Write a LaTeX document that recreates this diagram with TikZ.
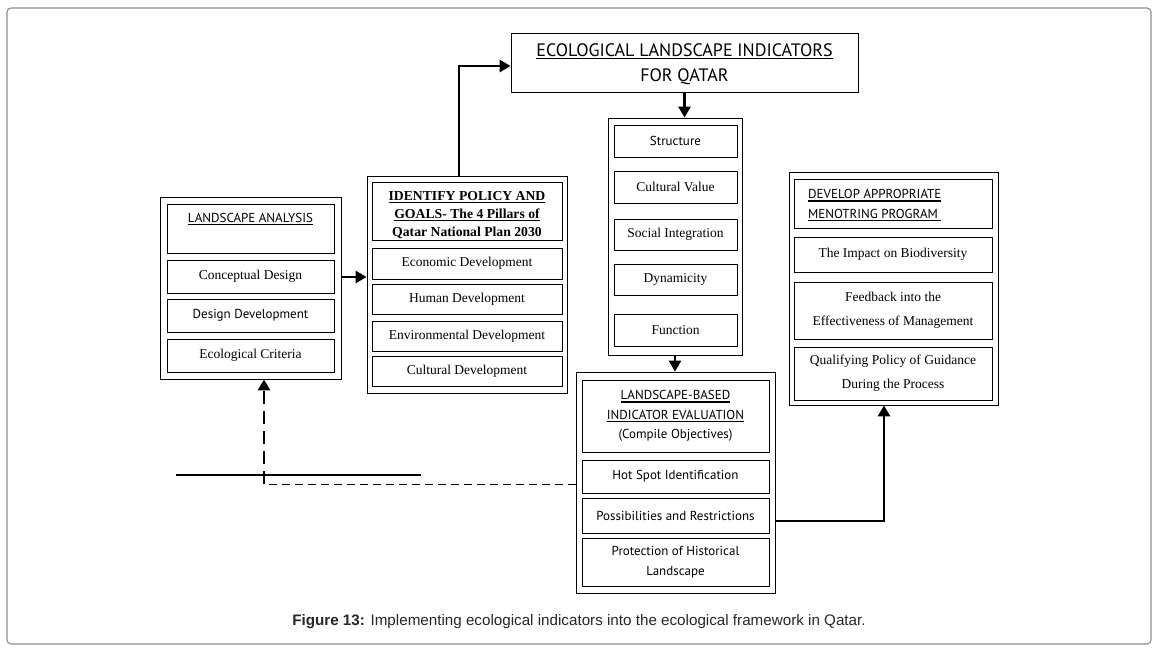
\documentclass[tikz,border=0pt]{standalone}
\usepackage{fontspec}
\usetikzlibrary{arrows.meta,calc}
\setmainfont{Liberation Serif}
\newfontfamily\sansf{PT Sans}
\newfontfamily\capf{Liberation Sans}
\newcommand\uln[1]{\setbox0\hbox{#1}\rlap{\rule[-3pt]{\wd0}{1.6pt}}\box0}
\newcommand\serbody{\rmfamily\fontsize{13.5}{24}\selectfont}
\newcommand\sanbody{\sansf\fontsize{13}{19.5}\selectfont}
\newcommand\polhead{\rmfamily\bfseries\fontsize{13.7}{18}\selectfont}
\newcommand\titlef{\sansf\fontsize{18}{25}\selectfont}
\tikzset{
  outerbox/.style={draw, line width=0.8pt, inner sep=0pt},
  innerbox/.style={draw, line width=0.8pt, inner sep=0pt, align=center},
  sertext/.style={font=\serbody},
  santext/.style={font=\sanbody},
  thickarrow/.style={line width=2.6pt, -{Triangle[length=11pt,width=12pt]}},
  dashthick/.style={line width=2.6pt, dash pattern=on 13pt off 7pt, -{Triangle[length=11pt,width=12pt]}},
  dashthin/.style={line width=0.9pt, dash pattern=on 8pt off 5pt},
  solidline/.style={line width=1.8pt},
  frame/.style={draw=black!45, line width=1.1pt, rounded corners=4pt}
}
\begin{document}
\begin{tikzpicture}[x=1pt,y=-1pt]
\useasboundingbox (0,0) rectangle (1157,650);
\draw[frame] (7,8) rectangle (1151,644);

% Title box
\node[outerbox, minimum width=347pt, minimum height=59pt] (top) at (684.5,62.5) {};
\node[font=\titlef, align=center, inner sep=0pt] (toptext) at (684.5,64) {\uln{ECOLOGICAL LANDSCAPE INDICATORS}\\FOR QATAR};

% Indicators column
\node[outerbox, minimum width=134pt, minimum height=237pt] (ind) at (675,236.5) {};
\node[innerbox, santext, minimum width=123pt, minimum height=32pt] (s1) at (675.5,141) {Structure};
\node[innerbox, sertext, minimum width=123pt, minimum height=32pt] (s2) at (675.5,187) {Cultural Value};
\node[innerbox, sertext, minimum width=123pt, minimum height=31pt] (s3) at (675.5,234.5) {Social Integration};
\node[innerbox, sertext, minimum width=123pt, minimum height=31pt] (s4) at (675.5,279.5) {Dynamicity};
\node[innerbox, sertext, minimum width=123pt, minimum height=32pt] (s5) at (675.5,330) {Function};

% Landscape analysis
\node[outerbox, minimum width=181pt, minimum height=182pt] (la) at (250.5,288) {};
\node[innerbox, minimum width=167pt, minimum height=49pt] (la1) at (250.5,228.5) {};
\node[santext, inner sep=0pt] (la1t) at (250.5,219) {\uln{LANDSCAPE ANALYSIS}};
\node[innerbox, sertext, minimum width=167pt, minimum height=33pt] (la2) at (250.5,276.5) {Conceptual Design};
\node[innerbox, santext, minimum width=167pt, minimum height=33pt] (la3) at (250.5,315.5) {Design Development};
\node[innerbox, sertext, minimum width=167pt, minimum height=33pt] (la4) at (250.5,355.5) {Ecological Criteria};

% Policy
\node[outerbox, minimum width=200pt, minimum height=217pt] (pol) at (467,284.5) {};
\node[innerbox, minimum width=190pt, minimum height=58pt] (p0) at (467,211) {};
\node[font=\polhead, align=center, inner sep=0pt] (p0t) at (467,215) {\uln{IDENTIFY POLICY AND}\\\uln{GOALS- The 4 Pillars of}\\Qatar National Plan 2030};
\node[innerbox, sertext, minimum width=190pt, minimum height=31pt] (p1) at (467,263.5) {Economic Development};
\node[innerbox, sertext, minimum width=190pt, minimum height=30pt] (p2) at (467,299) {Human Development};
\node[innerbox, sertext, minimum width=190pt, minimum height=30pt] (p3) at (467,336) {Environmental Development};
\node[innerbox, sertext, minimum width=190pt, minimum height=30pt] (p4) at (467,371) {Cultural Development};

% Landscape-based evaluation
\node[outerbox, minimum width=199pt, minimum height=221pt] (lb) at (675.5,482.5) {};
\node[innerbox, santext, minimum width=187pt, minimum height=72pt] (l0) at (675.5,416) {\uln{LANDSCAPE-BASED}\\\uln{INDICATOR EVALUATION}\\(Compile Objectives)};
\node[innerbox, santext, minimum width=187pt, minimum height=33pt] (l1) at (675.5,476.5) {Hot Spot Identification};
\node[innerbox, santext, minimum width=187pt, minimum height=35pt] (l2) at (675.5,515.5) {Possibilities and Restrictions};
\node[innerbox, santext, minimum width=187pt, minimum height=48pt] (l3) at (675.5,562) {Protection of Historical\\Landscape};

% Monitoring
\node[outerbox, minimum width=209pt, minimum height=233pt] (mon) at (893.5,288.5) {};
\node[innerbox, minimum width=198pt, minimum height=49pt] (m0) at (893,203.5) {};
\node[santext, align=left, anchor=west, inner sep=0pt] (m0t) at (808,205.5) {\uln{DEVELOP APPROPRIATE}\\\uln{MENOTRING PROGRAM\ }};
\node[innerbox, sertext, minimum width=198pt, minimum height=35pt] (m1) at (893,254.5) {The Impact on Biodiversity};
\node[innerbox, sertext, minimum width=198pt, minimum height=57pt] (m2) at (893,310.5) {Feedback into the\\Effectiveness of Management};
\node[innerbox, sertext, minimum width=198pt, minimum height=53pt] (m3) at (893,373.5) {Qualifying Policy of Guidance\\During the Process};

% Connector anchor points
\coordinate (laout) at ([yshift=11pt]la.east);
\coordinate (poltop) at ([xshift=-8pt]pol.north);
\coordinate (topin) at ([yshift=-3.5pt]top.west);
\coordinate (l2row) at ([yshift=-5.5pt]l2.center);
\coordinate (monin) at ([xshift=-9.5pt]mon.south);

% Connectors
\draw[thickarrow] (top.south) -- (top.south |- ind.north);
\draw[thickarrow] (ind.south) -- (ind.south |- lb.north);
\draw[thickarrow] (laout) -- (pol.west |- laout);
\draw[thickarrow] (poltop) |- (topin);
\draw[thickarrow] (lb.east |- l2row) -| (monin);

\coordinate (dk) at (264,484);
\coordinate (h1) at (176,475);
\coordinate (h2) at (421,475);
\draw[solidline] (h1) -- (h2);
\draw[dashthin] (lb.west |- dk) -- (dk);
\draw[dashthick] (dk) -- (dk |- la.south);

% Caption
\node[font=\capf\fontsize{15.2}{18}\selectfont, text=black!85, inner sep=0pt] (cap) at (579,622) {\textbf{Figure 13:} Implementing ecological indicators into the ecological framework in Qatar.};
\end{tikzpicture}
\end{document}
